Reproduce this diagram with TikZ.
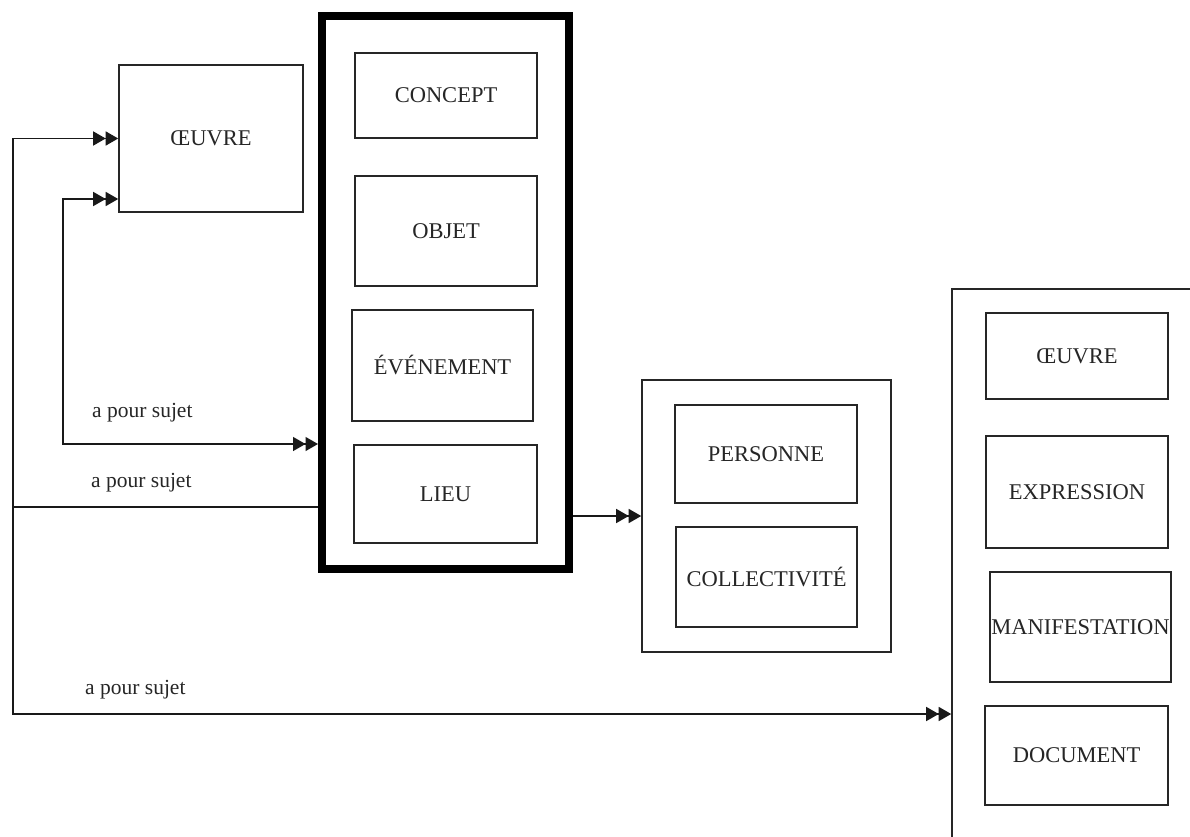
\documentclass[tikz,border=0pt]{standalone}
\usepackage{fontspec}
\setmainfont{Liberation Serif}
\usetikzlibrary{arrows.meta}
\begin{document}
\begin{tikzpicture}[x=1pt,y=-1pt,
  box/.style={draw=black!85, line width=1.6pt, rectangle, inner sep=0pt, text=black!85,
    font=\fontsize{22.5}{26}\selectfont},
  conn/.style={draw=black!90, line width=1.4pt},
  twotip/.style={-{Triangle[length=12.5pt,width=14pt]Triangle[length=12.5pt,width=14pt]}},
  twotipboth/.style={{Triangle[length=12.5pt,width=14pt]Triangle[length=12.5pt,width=14pt]}-{Triangle[length=12.5pt,width=14pt]Triangle[length=12.5pt,width=14pt]}},
  lbl/.style={anchor=west, inner sep=0pt, text=black!85, font=\fontsize{21.5}{25}\selectfont}]
\useasboundingbox (0,0) rectangle (1190,837);
\clip (0,0) rectangle (1190,837);
\fill[white] (0,0) rectangle (1190,837);

% big thick group
\node[box, line width=8pt, draw=black, minimum width=247pt, minimum height=553pt] (big) at (445.5,292.5) {};
\node[box, minimum width=182pt, minimum height=85pt] (concept) at (446,95.5) {CONCEPT};
\node[box, minimum width=182pt, minimum height=110pt] (objet) at (446,231) {OBJET};
\node[box, minimum width=181pt, minimum height=111pt] (evenement) at (442.5,365.5) {ÉVÉNEMENT};
\node[box, minimum width=183pt, minimum height=98pt] (lieu) at (445.5,494) {LIEU};

% oeuvre
\node[box, minimum width=184pt, minimum height=147pt] (oeuvre) at (211,138.5) {ŒUVRE};

% middle group
\node[box, minimum width=249pt, minimum height=272pt] (mid) at (766.5,516) {};
\node[box, minimum width=182pt, minimum height=98pt] (personne) at (766,454) {PERSONNE};
\node[box, minimum width=181pt, minimum height=100pt] (collect) at (766.5,577) {COLLECTIVITÉ};

% right group (open to the right and bottom)
\node[box, minimum width=258pt, minimum height=571pt] (right) at (1081,574.5) {};
\node[box, minimum width=182pt, minimum height=86pt] (oeuvreb) at (1077,356) {ŒUVRE};
\node[box, minimum width=182pt, minimum height=112pt] (expression) at (1077,492) {EXPRESSION};
\node[box, minimum width=181pt, minimum height=110pt] (manif) at (1080.5,627) {MANIFESTATION};
\node[box, minimum width=183pt, minimum height=99pt] (document) at (1076.5,755.5) {DOCUMENT};

% connector coordinates
\coordinate (outerA) at (13,507);
\coordinate (outerB) at (13,714);
\coordinate (innerA) at (63,199);
\coordinate (innerB) at (63,444);

% connectors
\draw[conn, twotip] (big.west |- outerA) -- (outerA) |- (oeuvre.west);
\draw[conn, twotip] (outerA) -- (outerB) -- (right.west |- outerB);
\draw[conn, twotipboth] (oeuvre.west |- innerA) -- (innerA) -- (innerB) -- (big.west |- innerB);
\draw[conn, twotip] (big.east |- mid.west) -- (mid.west);

% labels
\node[lbl] (s1) at (92,413) {a pour sujet};
\node[lbl] (s2) at (91,483) {a pour sujet};
\node[lbl] (s3) at (85,690) {a pour sujet};
\end{tikzpicture}
\end{document}
